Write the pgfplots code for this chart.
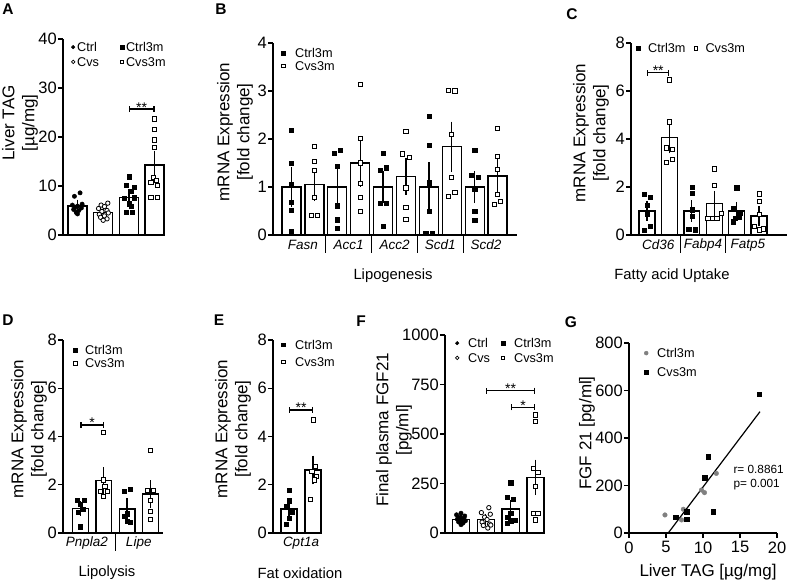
\documentclass[border=0pt]{standalone}
\usepackage{fontspec}
\setmainfont{Liberation Sans}
\usepackage{pgfplots}
\pgfplotsset{compat=1.18}
\usetikzlibrary{arrows.meta}

\pgfplotsset{
  limgw/.initial=8bp,
  legend image code/.code={\path[draw=none,fill=none] (0bp,-3bp) rectangle (\pgfkeysvalueof{/pgfplots/limgw},3bp);
    \draw[#1] plot coordinates {(4bp,0bp)};},
  gp/.style={
    scale only axis, anchor=south west, clip=false,
    axis x line*=bottom, axis y line*=left,
    axis line style={line width=1.3bp,-},
    tick align=outside, major tick length=5bp,
    every tick/.style={black,line width=1.3bp},
    tick label style={font=\fontsize{16.5bp}{18bp}\selectfont},
    yticklabel style={inner xsep=1bp},
    /pgf/number format/assume math mode=true,
    /pgf/number format/1000 sep={},
    ymin=0,
    legend cell align=left,
    legend style={draw=none, fill=none, inner sep=0pt, anchor=north west,
      nodes={inner sep=0pt, text depth=0pt},
      font=\fontsize{12.7bp}{14bp}\selectfont},
  },
  cat/.style={gp, xtick=\empty},
  bars/.style={ybar, bar shift=0pt, fill=white, draw=black, line width=1.3bp, forget plot,
    error bars/y dir=both, error bars/y explicit,
    error bars/error bar style={line width=1.3bp, black},
    error bars/error mark options={line width=1.3bp, black, mark size=#1}},
  bars/.default=4.5bp,
  pF/.style={only marks, mark=*, mark size=2.2bp, black, forget plot},
  pO/.style={only marks, mark=*, mark size=2.2bp, mark options={fill=white, draw=black, line width=0.8bp}, forget plot},
  qF/.style={only marks, mark=square*, mark size=2.1bp, black, forget plot},
  qO/.style={only marks, mark=square*, mark size=2.1bp, mark options={fill=white, draw=black, line width=0.8bp}, forget plot},
  lF/.style={only marks, mark=*, mark size=1.8bp, black},
  lO/.style={only marks, mark=*, mark size=1.8bp, mark options={fill=white, draw=black, line width=0.7bp}},
  lqF/.style={only marks, mark=square*, mark size=1.7bp, black},
  lqO/.style={only marks, mark=square*, mark size=1.7bp, mark options={fill=white, draw=black, line width=0.7bp}},
}
\tikzset{
  sig/.style={line width=1.2bp, {Bar[width=6bp]}-{Bar[width=6bp]}},
  star/.style={midway, anchor=base, yshift=-3bp, inner sep=0pt, font=\fontsize{14bp}{14bp}\selectfont},
  lab/.style={rotate=90, align=center, font=\fontsize{17bp}{20bp}\selectfont},
  gene/.style={font=\fontsize{13.5bp}{14bp}\selectfont\itshape, yshift=-10bp},
  sep/.style={line width=1.3bp},
  grp/.style={font=\fontsize{14.8bp}{16bp}\selectfont},
  letter/.style={font=\fontsize{15.5bp}{16bp}\selectfont\bfseries},
}

\begin{document}
\begin{tikzpicture}
\path[use as bounding box] (0,0) rectangle (787bp,582bp);

% ---------- A: liver TAG ----------
\begin{axis}[cat, at={(63bp,347bp)}, width=100bp, height=196bp,
  xmin=0.435, xmax=4.33, ymax=40, ytick={0,10,20,30,40}, bar width=0.74,
  legend columns=2, legend style={at={(0.06,0.983)}, row sep=5.7bp},
  limgw=8bp, legend style={/tikz/every even column/.append style={column sep=19bp}}]
\addlegendimage{lF}\addlegendentry{Ctrl}
\addlegendimage{lqF}\addlegendentry{Ctrl3m}
\addlegendimage{lO}\addlegendentry{Cvs}
\addlegendimage{lqO}\addlegendentry{Cvs3m}
\addplot[bars] coordinates {(1,5.9) +- (0,0.4) (2,4.55) +- (0,0.3) (3,7.7) +- (0,0.75) (4,14.3) +- (0,2.0)};
\addplot[pF] coordinates {(1.10,8.6) (0.88,7.9) (1.18,6.3) (0.80,6.1) (1.00,5.9) (0.90,5.6) (1.15,5.5) (0.85,5.2) (1.05,5.0) (0.95,4.6) (1.00,4.3)};
\addplot[pO] coordinates {(2.18,6.5) (1.92,6.1) (2.05,5.8) (1.82,5.4) (2.15,5.0) (1.95,4.8) (2.20,4.5) (1.85,4.2) (2.05,3.9) (1.90,3.6) (2.15,3.3) (2.00,3.0)};
\addplot[qF] coordinates {(3.00,11.9) (2.90,10.2) (3.20,9.7) (3.10,8.9) (2.82,7.5) (3.22,7.6) (3.00,6.4) (3.08,5.8) (2.90,4.6) (3.12,4.7)};
\addplot[qO] coordinates {(4.00,23.7) (4.00,21.6) (4.00,19.4) (4.00,17.8) (3.95,11.8) (3.86,10.8) (4.12,10.2) (4.06,11.2) (3.86,7.6) (4.12,7.6)};
\draw[sig] (axis cs:3,25.7) -- (axis cs:4,25.7) node[star] {**};
\end{axis}

% ---------- B: lipogenesis ----------
\begin{axis}[cat, at={(273bp,347bp)}, width=244bp, height=192bp,
  xmin=0.192, xmax=10.85, ymax=4, ytick={0,1,2,3,4}, bar width=0.83,
  legend style={at={(0.0246,0.972)}, row sep=3.7bp}, limgw=16bp]
\addlegendimage{lqF}\addlegendentry{Ctrl3m}
\addlegendimage{lqO}\addlegendentry{Cvs3m}
\addplot[bars=5bp] coordinates {(1,1.0) +- (0,0.31) (2,1.05) +- (0,0.24) (3,1.0) +- (0,0.30) (4,1.5) +- (0,0.39) (5,1.0) +- (0,0.23) (6,1.22) +- (0,0.28) (7,1.0) +- (0,0.41) (8,1.84) +- (0,0.42) (9,1.0) +- (0,0.23) (10,1.23) +- (0,0.25)};
\addplot[qF] coordinates {
  (1,2.19) (1,1.49) (1,1.06) (1,0.69) (1,0.51) (1,0.07)
  (2.86,1.71) (3.14,1.77) (3,1.44) (3,0.61) (3,0.32) (3,0.14)
  (5,1.71) (4.86,1.35) (5.14,1.40) (4.86,0.67) (5.14,0.67) (5,0.18)
  (7,2.48) (7,1.87) (7,1.09) (7,0.49) (6.86,0.04) (7.14,0.04)
  (9,1.77) (8.86,1.24) (9.14,1.21) (9,0.96) (9,0.49) (9,0.30)};
\addplot[qO] coordinates {
  (2,1.84) (2,1.54) (2,1.34) (2,0.79) (1.86,0.41) (2.14,0.41)
  (4,3.13) (4,2.02) (4,1.50) (4,1.08) (4,0.79) (4,0.49)
  (6,2.16) (5.86,1.69) (6.14,1.62) (6,0.98) (6,0.57) (6,0.33)
  (7.86,3.02) (8.14,3.00) (8,2.10) (8,1.20) (7.86,0.81) (8.14,0.89)
  (10,2.22) (10,1.63) (10,1.37) (10,0.84) (10.14,0.70) (9.86,0.63)};
\draw[sep] (axis cs:2.5,0) -- ++(0bp,-18bp);
\draw[sep] (axis cs:4.5,0) -- ++(0bp,-18bp);
\draw[sep] (axis cs:6.5,0) -- ++(0bp,-18bp);
\draw[sep] (axis cs:8.5,0) -- ++(0bp,-18bp);
\node[gene] at (axis cs:1.5,0) {Fasn};
\node[gene] at (axis cs:3.5,0) {Acc1};
\node[gene] at (axis cs:5.5,0) {Acc2};
\node[gene] at (axis cs:7.5,0) {Scd1};
\node[gene] at (axis cs:9.5,0) {Scd2};
\end{axis}

% ---------- C: fatty acid uptake ----------
\begin{axis}[cat, at={(631bp,347bp)}, width=156bp, height=192bp,
  xmin=0.286, xmax=7.25, ymax=8, ytick={0,2,4,6,8}, bar width=0.71,
  legend columns=2, legend style={at={(0.019,0.998)}, /tikz/every even column/.append style={column sep=6bp}},
  limgw=14bp]
\addlegendimage{lqF}\addlegendentry{Ctrl3m}
\addlegendimage{lqO}\addlegendentry{Cvs3m}
\addplot[bars=4bp] coordinates {(1,1.0) +- (0,0.25) (2,4.07) +- (0,0.5) (3,1.0) +- (0,0.29) (4,1.32) +- (0,0.35) (5,1.0) +- (0,0.21) (6,0.79) +- (0,0.25)};
\addplot[qF] coordinates {
  (0.86,1.71) (1.14,1.56) (1,1.25) (1,0.88) (1.14,0.35) (0.86,0.21)
  (3,1.99) (3,1.73) (3,1.05) (3,0.78) (2.86,0.23) (3.14,0.22)
  (5,1.97) (4.86,1.11) (5.14,0.90) (5.10,0.76) (4.95,0.70) (4.86,0.55)};
\addplot[qO] coordinates {
  (2,6.46) (2,4.71) (1.86,3.63) (2.14,3.58) (2.14,3.15) (1.86,3.01)
  (4,2.75) (4,2.05) (3.72,0.70) (3.94,0.70) (4.12,0.70) (4.31,0.90)
  (6,1.71) (6,1.39) (6,0.85) (5.80,0.35) (6,0.21) (6.20,0.25)};
\draw[sig] (axis cs:1,6.76) -- (axis cs:2,6.76) node[star] {**};
\draw[sep] (axis cs:2.5,0) -- ++(0bp,-18bp);
\draw[sep] (axis cs:4.5,0) -- ++(0bp,-18bp);
\node[gene] at (axis cs:1.5,0) {Cd36};
\node[gene] at (axis cs:3.5,0) {Fabp4};
\node[gene] at (axis cs:5.5,0) {Fatp5};
\end{axis}

% ---------- D: lipolysis ----------
\begin{axis}[cat, at={(63bp,49bp)}, width=100bp, height=193bp,
  xmin=0.25, xmax=4.54, ymax=8, ytick={0,2,4,6,8}, bar width=0.68,
  legend style={at={(0.08,0.972)}, row sep=4bp}, limgw=14bp]
\addlegendimage{lqF}\addlegendentry{Ctrl3m}
\addlegendimage{lqO}\addlegendentry{Cvs3m}
\addplot[bars=4bp] coordinates {(1,1.02) +- (0,0.13) (2,2.17) +- (0,0.4) (3,1.0) +- (0,0.27) (4,1.62) +- (0,0.4)};
\addplot[qF] coordinates {
  (0.85,1.37) (1.15,1.37) (1,1.19) (1.1,1.0) (0.9,0.85) (1,0.26)
  (2.86,1.74) (3.14,1.83) (3,0.8) (2.88,0.7) (3.0,0.48) (3.14,0.45)};
\addplot[qO] coordinates {
  (2,4.16) (2,2.2) (2.05,1.92) (1.85,1.71) (2.15,1.71) (2,1.53)
  (4,3.44) (3.86,1.75) (4.14,1.75) (4,1.34) (4,0.88) (4,0.57)};
\draw[sig] (axis cs:1,4.48) -- (axis cs:2,4.48) node[star] {*};
\draw[sep] (axis cs:2.5,0) -- ++(0bp,-18bp);
\node[gene] at (axis cs:1.27,0) {Pnpla2};
\node[gene] at (axis cs:3.5,0) {Lipe};
\end{axis}

% ---------- E: fat oxidation ----------
\begin{axis}[cat, at={(273bp,49bp)}, width=48bp, height=193bp,
  xmin=0.333, xmax=2.333, ymax=8, ytick={0,2,4,6,8}, bar width=0.67,
  legend style={at={(0.125,1.0)}, row sep=8bp}, limgw=16bp]
\addlegendimage{lqF}\addlegendentry{Ctrl3m}
\addlegendimage{lqO}\addlegendentry{Cvs3m}
\addplot[bars=4bp] coordinates {(1,1.0) +- (0,0.2) (2,2.61) +- (0,0.43)};
\addplot[qF] coordinates {(1,1.78) (1,1.34) (0.9,1.09) (1.12,0.88) (1,0.61) (0.88,0.37)};
\addplot[qO] coordinates {(2,4.69) (2.1,2.75) (1.95,2.54) (2.14,2.34) (2.05,2.2) (1.9,1.4)};
\draw[sig] (axis cs:1,5.1) -- (axis cs:2,5.1) node[star] {**};
\node[gene] at (axis cs:1.5,0) {Cpt1a};
\end{axis}

% ---------- F: plasma FGF21 ----------
\begin{axis}[cat, at={(445bp,49bp)}, width=99bp, height=198bp,
  xmin=0.355, xmax=4.343, ymax=1000, ytick={0,250,500,750,1000}, bar width=0.69,
  legend columns=2, legend style={at={(0.081,0.983)}, row sep=5.7bp,
    /tikz/every even column/.append style={column sep=9bp}}, limgw=15bp]
\addlegendimage{lF}\addlegendentry{Ctrl}
\addlegendimage{lqF}\addlegendentry{Ctrl3m}
\addlegendimage{lO}\addlegendentry{Cvs}
\addlegendimage{lqO}\addlegendentry{Cvs3m}
\addplot[bars=4bp] coordinates {(1,69) +- (0,6) (2,67) +- (0,11) (3,121) +- (0,24) (4,281) +- (0,70)};
\addplot[pF] coordinates {(1,100) (0.82,92) (1.15,86) (0.9,80) (1.1,75) (0.85,70) (1,66) (1.18,62) (0.9,56) (1.08,50) (1,42)};
\addplot[pO] coordinates {(2.12,128) (1.82,103) (2.18,95) (1.95,80) (2.05,68) (1.85,55) (2.15,45) (1.9,38) (2.08,25) (2.2,40)};
\addplot[qF] coordinates {(3,254) (2.85,180) (3.1,172) (3,100) (2.85,80) (3.18,66) (3,62) (2.85,48)};
\addplot[qO] coordinates {(4,596) (4,562) (3.9,327) (4.1,305) (4,234) (3.9,99) (4.1,99) (4,66)};
\draw[sig] (axis cs:2,719) -- (axis cs:4,719) node[star] {**};
\draw[sig] (axis cs:3,635) -- (axis cs:4,635) node[star] {*};
\end{axis}

% ---------- G: correlation ----------
\begin{axis}[gp, at={(629bp,49bp)}, width=148bp, height=190bp,
  xmin=0, xmax=20, ymax=800, xtick={0,5,10,15,20}, ytick={0,200,400,600,800},
  legend style={at={(0.088,0.972)}, row sep=9.7bp}, limgw=15bp]
\addlegendimage{only marks, mark=*, mark size=2bp, color=gray}\addlegendentry{Ctrl3m}
\addlegendimage{only marks, mark=square*, mark size=2bp, black}\addlegendentry{Cvs3m}
\addplot[only marks, mark=*, mark size=2.3bp, color=gray, forget plot] coordinates {(4.86,76) (7.34,100) (7.1,55) (9.8,181) (10.2,170) (11.8,251)};
\addplot[only marks, mark=square*, mark size=2.3bp, black, forget plot] coordinates {(17.6,585) (10.7,321) (10.2,233) (6.35,66) (7.8,90) (7.8,58) (11.4,90)};
\addplot[black, line width=1.2bp, forget plot] coordinates {(5.3,0) (17.7,511)};
\node[anchor=north west, align=left, inner sep=0pt, font=\fontsize{11.8bp}{13.5bp}\selectfont] at (axis cs:14.1,286) {r= 0.8861\\p= 0.001};
\end{axis}

% ---------- labels ----------
\node[lab] at (20bp,459bp) {Liver TAG\\{[µg/mg]}};
\node[lab] at (235bp,450bp) {mRNA Expression\\{[fold change]}};
\node[lab] at (591bp,449bp) {mRNA Expression\\{[fold change]}};
\node[lab] at (29bp,153bp) {mRNA Expression\\{[fold change]}};
\node[lab] at (233bp,153bp) {mRNA Expression\\{[fold change]}};
\node[lab] at (394bp,152bp) {Final plasma FGF21\\{[pg/ml]}};
\node[lab] at (587bp,149bp) {FGF 21 [pg/ml]};
\node[grp] at (393bp,306bp) {Lipogenesis};
\node[grp] at (672bp,306bp) {Fatty acid Uptake};
\node[grp] at (107bp,9bp) {Lipolysis};
\node[grp] at (300bp,9bp) {Fat oxidation};
\node[font=\fontsize{17bp}{18bp}\selectfont] at (708bp,10bp) {Liver TAG [µg/mg]};
\node[letter] at (8bp,573bp) {A};
\node[letter] at (221bp,573bp) {B};
\node[letter] at (572bp,568bp) {C};
\node[letter] at (8bp,262bp) {D};
\node[letter] at (219bp,262bp) {E};
\node[letter] at (361bp,261bp) {F};
\node[letter] at (571bp,260bp) {G};
\end{tikzpicture}
\end{document}
